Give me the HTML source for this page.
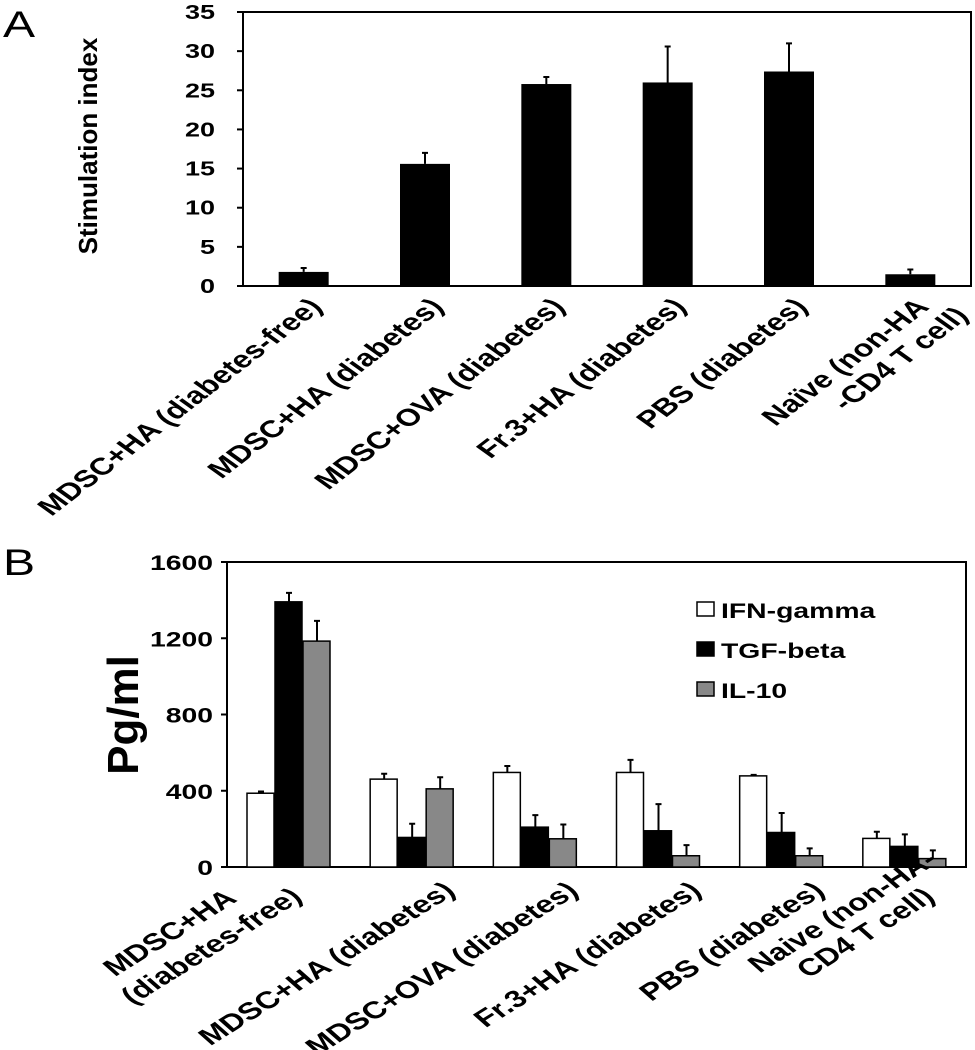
<!DOCTYPE html>
<html><head><meta charset="utf-8"><style>
html,body{margin:0;padding:0;background:#fff;}
svg{display:block;font-family:"Liberation Sans",sans-serif;font-weight:bold;}
</style></head><body>
<svg id="chart" width="975" height="1050" viewBox="0 0 975 1050">
<text transform="translate(3,37) scale(1.3,1)" font-size="37" font-weight="normal">A</text>
<text transform="translate(3,575) scale(1.3,1)" font-size="37" font-weight="normal">B</text>
<text transform="translate(97,146) rotate(-90)" text-anchor="middle" font-size="26">Stimulation index</text>
<text transform="translate(138,715) rotate(-90)" text-anchor="middle" font-size="44">Pg/ml</text>
<g id="pa"></g><g id="pb"></g>
</svg>
<script>
const NS="http://www.w3.org/2000/svg";
// Panel A data
const catsA=[["MDSC+HA (diabetes-free)"],["MDSC+HA (diabetes)"],["MDSC+OVA (diabetes)"],["Fr.3+HA (diabetes)"],["PBS (diabetes)"],["Naïve (non-HA","-CD4 T cell)"]];
const valsA=[1.8,15.6,25.8,26.0,27.4,1.5];
const errA=[0.5,1.4,0.9,4.6,3.6,0.6];
const ticksA=[0,5,10,15,20,25,30,35];
// Panel B data
const catsB=[["MDSC+HA","(diabetes-free)"],["MDSC+HA (diabetes)"],["MDSC+OVA (diabetes)"],["Fr.3+HA (diabetes)"],["PBS (diabetes)"],["Naive (non-HA-","CD4 T cell)"]];
const seriesNames=["IFN-gamma","TGF-beta","IL-10"];
const ifn=[387,461,496,496,478,150];
const tgf=[1391,155,209,190,181,108];
const il10=[1185,410,148,59,59,44];
const ifnErr=[9,28,34,66,5,35];
const tgfErr=[47,72,63,140,102,63];
const il10Err=[106,61,75,56,39,43];
const ticksB=[0,400,800,1200,1600];

const SX=1.35;
function el(t,a,p){const e=document.createElementNS(NS,t);for(const k in a)e.setAttribute(k,a[k]);p.appendChild(e);return e;}

// Panel A
const ga=document.getElementById('pa');
const aL=243,aR=971,aT=12,aB=286,aMax=35;
const ya=v=>aB-(v/aMax)*(aB-aT);
const bwA=(aR-aL)/catsA.length;
let r=el('rect',{x:aL,y:aT,width:aR-aL,height:aB-aT,fill:'none',stroke:'#000','stroke-width':2},ga);

ticksA.forEach(t=>{
 let l=el('line',{x1:aL-6,x2:aL,y1:ya(t),y2:ya(t),stroke:'#000','stroke-width':2},ga);
 
 let tx=el('text',{transform:`translate(215,${ya(t)+7}) scale(${SX},1)`,'text-anchor':'end','font-size':20},ga);tx.textContent=t;
 
});
valsA.forEach((v,i)=>{
 const cx=aL+bwA*(i+0.5);
 let b=el('rect',{x:cx-25,y:ya(v),width:50,height:aB-ya(v),fill:'#000'},ga);
 
 let e=el('path',{d:`M${cx} ${ya(v)}V${ya(v+errA[i])}M${cx-3} ${ya(v+errA[i])}H${cx+3}`,stroke:'#000','stroke-width':2,fill:'none'},ga);
 
 const lines=catsA[i];
 let tx=el('text',{transform:`translate(${cx+20},${aB+22}) scale(${SX},1) rotate(-46)`,'text-anchor':'end','font-size':24},ga);
 lines.forEach((s,j)=>{let ts=el('tspan',{x:j==0?0:14,dy:j==0?0:27},tx);ts.textContent=s;});
 
});

// Panel B
const gb=document.getElementById('pb');
const bL=227,bR=966,bT=562,bB=867,bMax=1600;
const yb=v=>bB-(v/bMax)*(bB-bT);
const gw=(bR-bL)/catsB.length;
r=el('rect',{x:bL,y:bT,width:bR-bL,height:bB-bT,fill:'none',stroke:'#000','stroke-width':2},gb);

ticksB.forEach(t=>{
 let l=el('line',{x1:bL-6,x2:bL,y1:yb(t),y2:yb(t),stroke:'#000','stroke-width':2},gb);
 
 let tx=el('text',{transform:`translate(213,${yb(t)+8}) scale(${SX},1)`,'text-anchor':'end','font-size':21},gb);tx.textContent=t;
 
});
const series=[ifn,tgf,il10],errs=[ifnErr,tgfErr,il10Err],fills=['#fff','#000','#888'];
catsB.forEach((c,i)=>{
 const gx=bL+gw*i+20;
 series.forEach((s,k)=>{
  const x=gx+k*28,v=s[i],ev=v+errs[k][i],cx=x+14;
  let b=el('rect',{x:x,y:yb(v),width:27,height:bB-yb(v),fill:fills[k],stroke:'#000','stroke-width':1.5},gb);
  
  let e=el('path',{d:`M${cx} ${yb(v)}V${yb(ev)}M${cx-3} ${yb(ev)}H${cx+3}`,stroke:'#000','stroke-width':2,fill:'none'},gb);
  
 });
 const cx=bL+gw*(i+0.5);
 const two=c.length>1;
 const ex=two?(i==0?cx+15:cx+32):cx+45, ey=two?bB+32:bB+26;
 let tx=el('text',{transform:`translate(${ex},${ey}) scale(${SX},1) rotate(-40)`,'text-anchor':'end','font-size':24},gb);
 if(two){
  let t1=el('tspan',{x:i==0?-38:25,y:i==0?-30:-27},tx);t1.textContent=c[0];
  let t2=el('tspan',{x:0,y:0},tx);t2.textContent=c[1];
 } else {
  let t1=el('tspan',{x:0,y:0},tx);t1.textContent=c[0];
 }
 
});
seriesNames.forEach((n,k)=>{
 const y=602+k*40;
 let sq=el('rect',{x:697,y:y,width:17,height:14,fill:fills[k],stroke:'#000','stroke-width':1.5},gb);
 
 let t=el('text',{transform:`translate(721,${y+16}) scale(${SX},1)`,'font-size':21},gb);t.textContent=n;
 
});
</script>
</body></html>
